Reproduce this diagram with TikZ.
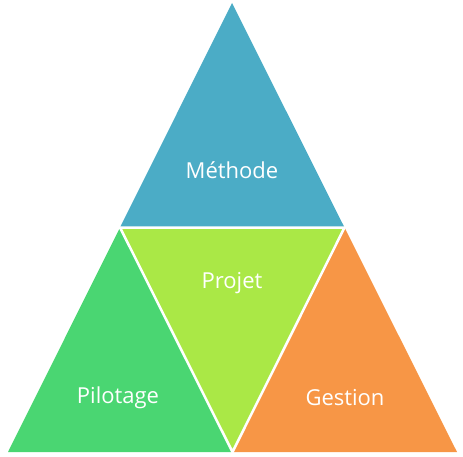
\documentclass[tikz,border=0pt]{standalone}
\usepackage{fontspec}
\setmainfont{Open Sans}
\usetikzlibrary{calc}
\definecolor{methodeblue}{HTML}{4BACC6}
\definecolor{projetgreen}{HTML}{AAE846}
\definecolor{pilotagegreen}{HTML}{4AD672}
\definecolor{gestionorange}{HTML}{F79646}
\begin{document}
\begin{tikzpicture}[x=1pt,y=-1pt,part/.style={draw=white,line width=2.5pt,line join=miter},label/.style={text=white,font=\fontsize{22}{26}\selectfont}]
                \useasboundingbox (0,0) rectangle (463,457);
                \coordinate (top) at (232,3);
                \coordinate (left) at (8,452);
                \coordinate (right) at (457,452);
                \coordinate (ml) at ($(top)!0.5!(left)$);
                \coordinate (mr) at ($(top)!0.5!(right)$);
                \coordinate (mb) at ($(left)!0.5!(right)$);

                \fill[methodeblue] (top) -- (mr) -- (ml) -- cycle;
                \fill[projetgreen] (ml) -- (mr) -- (mb) -- cycle;
                \fill[pilotagegreen] (ml) -- (mb) -- (left) -- cycle;
                \fill[gestionorange] (mr) -- (right) -- (mb) -- cycle;
                \draw[part] (ml) -- (mr) -- (mb) -- cycle;

                \node[label] (methode) at (232,170) {Méthode};
                \node[label] (projet) at (232,283) {Projet};
                \node[label] (pilotage) at (118,398) {Pilotage};
                \node[label] (gestion) at (345,398) {Gestion};
            \end{tikzpicture}
\end{document}
